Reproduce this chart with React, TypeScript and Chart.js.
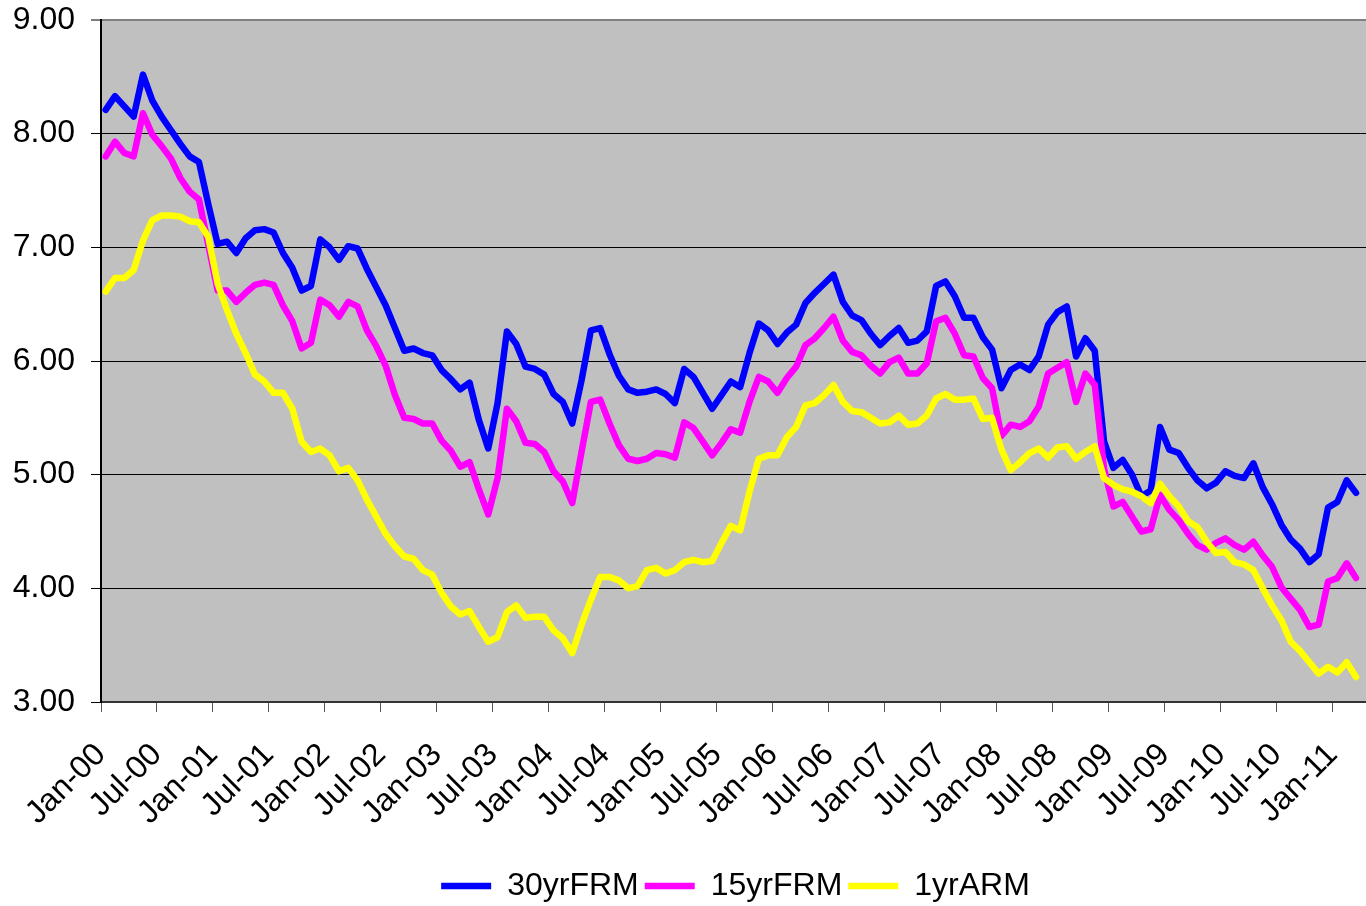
import React, { useEffect, useRef } from 'react';
import { Chart, registerables } from 'chart.js';

Chart.register(...registerables);

// ---------- data ----------
const MONTHS = ['Jan', 'Feb', 'Mar', 'Apr', 'May', 'Jun', 'Jul', 'Aug', 'Sep', 'Oct', 'Nov', 'Dec'];
const YEARS = ['00', '01', '02', '03', '04', '05', '06', '07', '08', '09', '10', '11'];
const CATEGORY_COUNT = 136; // Jan-00 .. Apr-11 (last category empty)
const CATEGORIES: string[] = [];
for (const y of YEARS) for (const m of MONTHS) CATEGORIES.push(`${m}-${y}`);
const LABELS = CATEGORIES.slice(0, CATEGORY_COUNT);
const LABEL_EVERY = 6;

const Y_MIN = 3;
const Y_MAX = 9;
const Y_STEP = 1;

const SERIES_NAMES = ['30yrFRM', '15yrFRM', '1yrARM'];

const FRM30 = [
  8.21, 8.33, 8.24, 8.15, 8.52, 8.29, 8.15, 8.03, 7.91, 7.80, 7.75, 7.38,
  7.03, 7.05, 6.95, 7.08, 7.15, 7.16, 7.13, 6.95, 6.82, 6.62, 6.66, 7.07,
  7.00, 6.89, 7.01, 6.99, 6.81, 6.65, 6.49, 6.29, 6.09, 6.11, 6.07, 6.05,
  5.92, 5.84, 5.75, 5.81, 5.48, 5.23, 5.63, 6.26, 6.15, 5.95, 5.93, 5.88,
  5.71, 5.64, 5.45, 5.83, 6.27, 6.29, 6.06, 5.87, 5.75, 5.72, 5.73, 5.75,
  5.71, 5.63, 5.93, 5.86, 5.72, 5.58, 5.70, 5.82, 5.77, 6.07, 6.33, 6.27,
  6.15, 6.25, 6.32, 6.51, 6.60, 6.68, 6.76, 6.52, 6.40, 6.36, 6.24, 6.14,
  6.22, 6.29, 6.16, 6.18, 6.26, 6.66, 6.70, 6.57, 6.38, 6.38, 6.21, 6.10,
  5.76, 5.92, 5.97, 5.92, 6.04, 6.32, 6.43, 6.48, 6.04, 6.20, 6.09, 5.29,
  5.06, 5.13, 5.00, 4.81, 4.86, 5.42, 5.22, 5.19, 5.06, 4.95, 4.88, 4.93,
  5.03, 4.99, 4.97, 5.10, 4.89, 4.74, 4.56, 4.43, 4.35, 4.23, 4.30, 4.71,
  4.76, 4.95, 4.84,
];

const FRM15 = [
  7.80, 7.93, 7.83, 7.80, 8.18, 7.99, 7.89, 7.78, 7.61, 7.49, 7.42, 7.02,
  6.62, 6.62, 6.52, 6.60, 6.67, 6.69, 6.67, 6.49, 6.35, 6.11, 6.16, 6.54,
  6.49, 6.39, 6.52, 6.48, 6.27, 6.13, 5.96, 5.70, 5.50, 5.49, 5.45, 5.45,
  5.30, 5.21, 5.07, 5.11, 4.87, 4.65, 4.97, 5.58, 5.47, 5.28, 5.27, 5.20,
  5.03, 4.94, 4.75, 5.20, 5.64, 5.66, 5.45, 5.26, 5.14, 5.12, 5.14, 5.19,
  5.18, 5.15, 5.46, 5.41, 5.29, 5.17, 5.28, 5.40, 5.37, 5.64, 5.86, 5.82,
  5.72, 5.85, 5.95, 6.14, 6.20, 6.29, 6.39, 6.18, 6.08, 6.05, 5.96, 5.89,
  5.99, 6.03, 5.89, 5.89, 5.98, 6.35, 6.38, 6.24, 6.05, 6.04, 5.85, 5.76,
  5.34, 5.44, 5.42, 5.47, 5.60, 5.89, 5.94, 5.99, 5.64, 5.89, 5.79, 5.05,
  4.72, 4.76, 4.63, 4.50, 4.52, 4.82, 4.69, 4.60, 4.48, 4.38, 4.34, 4.40,
  4.44, 4.38, 4.34, 4.41, 4.29, 4.19, 4.01, 3.91, 3.81, 3.66, 3.68, 4.06,
  4.09, 4.22, 4.09,
];

const ARM1 = [
  6.61, 6.73, 6.73, 6.80, 7.06, 7.24, 7.28, 7.28, 7.27, 7.23, 7.22, 7.09,
  6.68, 6.45, 6.24, 6.07, 5.88, 5.82, 5.72, 5.72, 5.58, 5.29, 5.20, 5.23,
  5.17, 5.03, 5.06, 4.95, 4.78, 4.63, 4.48, 4.37, 4.28, 4.26, 4.16, 4.12,
  3.96, 3.84, 3.77, 3.80, 3.66, 3.53, 3.57, 3.79, 3.85, 3.74, 3.75, 3.75,
  3.63, 3.56, 3.43, 3.68, 3.90, 4.10, 4.10, 4.07, 4.00, 4.02, 4.16, 4.18,
  4.13, 4.16, 4.23, 4.25, 4.23, 4.24, 4.40, 4.55, 4.51, 4.85, 5.14, 5.17,
  5.17, 5.33, 5.42, 5.61, 5.63, 5.70, 5.79, 5.64, 5.56, 5.55, 5.50, 5.45,
  5.46, 5.52, 5.44, 5.45, 5.52, 5.67, 5.71, 5.66, 5.66, 5.67, 5.49, 5.50,
  5.22, 5.04, 5.11, 5.19, 5.23, 5.15, 5.24, 5.25, 5.14, 5.20, 5.25, 4.97,
  4.91, 4.87, 4.85, 4.81, 4.75, 4.92, 4.81, 4.72, 4.59, 4.54, 4.41, 4.31,
  4.32, 4.23, 4.21, 4.16, 4.00, 3.85, 3.72, 3.53, 3.45, 3.35, 3.25, 3.31,
  3.26, 3.35, 3.22,
];

const COLORS = ['#0000FF', '#FF00FF', '#FFFF00'];

// ---------- layout / style ----------
const CANVAS_W = 1380;
const CANVAS_H = 912;
const FONT = '"Liberation Sans", Arial, Helvetica, sans-serif';
const FONT_SIZE = 32;

const plotBackground = {
  id: 'plotBackground',
  beforeDraw(chart: any) {
    const { ctx, chartArea: a } = chart;
    ctx.save();
    ctx.fillStyle = '#FFFFFF';
    ctx.fillRect(0, 0, chart.width, chart.height);
    ctx.fillStyle = '#C0C0C0';
    ctx.fillRect(a.left, a.top, a.right - a.left, a.bottom - a.top);
    ctx.restore();
  },
};

export default function App() {
  const canvasRef = useRef<HTMLCanvasElement | null>(null);

  useEffect(() => {
    const canvas = canvasRef.current;
    if (!canvas) return;
    const seriesData = [FRM30, FRM15, ARM1];
    const chart = new Chart(canvas, {
      type: 'line',
      data: {
        labels: LABELS,
        datasets: SERIES_NAMES.map((name, i) => ({
          label: name,
          data: seriesData[i],
          borderColor: COLORS[i],
          backgroundColor: COLORS[i],
          borderWidth: 6.5,
          pointRadius: 0,
          pointHoverRadius: 0,
          tension: 0,
          fill: false,
          borderJoinStyle: 'round',
          borderCapStyle: 'round',
          order: SERIES_NAMES.length - i,
        })),
      },
      options: {
        responsive: false,
        animation: false,
        devicePixelRatio: 1,
        events: [],
        layout: { padding: { top: 20, left: 0, right: 10, bottom: 0 } },
        plugins: {
          tooltip: { enabled: false },
          title: { display: false },
          legend: {
            display: true,
            position: 'bottom',
            fullSize: false,
            labels: {
              usePointStyle: true,
              pointStyle: 'line',
              pointStyleWidth: 50,
              padding: 6,
              color: '#000000',
              font: { family: FONT, size: FONT_SIZE },
              sort: (a: any, b: any) => a.datasetIndex - b.datasetIndex,
            },
          },
        },
        scales: {
          x: {
            type: 'category',
            offset: true,
            afterFit: (scale: any) => {
              scale.height = 162;
              scale.paddingLeft = 0;
              scale.paddingRight = 0;
              scale.paddingTop = 0;
              scale.paddingBottom = 0;
            },
            grid: {
              offset: true,
              drawOnChartArea: false,
              drawTicks: true,
              tickLength: 10,
              tickWidth: 1,
              tickColor: (ctx: any) =>
                typeof ctx.index === 'number' && ctx.index % LABEL_EVERY === 0 ? '#555555' : 'rgba(0,0,0,0)',
            },
            border: { display: true, color: '#333333', width: 2 },
            ticks: {
              autoSkip: false,
              minRotation: 45,
              maxRotation: 45,
              padding: 24,
              labelOffset: -4.7,
              color: '#000000',
              font: { family: FONT, size: FONT_SIZE },
              callback: (_v: any, index: number) => (index % LABEL_EVERY === 0 ? LABELS[index] : ''),
            },
          },
          y: {
            type: 'linear',
            min: Y_MIN,
            max: Y_MAX,
            afterFit: (scale: any) => {
              scale.width = 101;
              scale.paddingLeft = 0;
              scale.paddingRight = 0;
              scale.paddingTop = 0;
              scale.paddingBottom = 0;
            },
            grid: {
              color: (ctx: any) => (ctx.tick && ctx.tick.value === Y_MAX ? '#808080' : '#000000'),
              lineWidth: (ctx: any) => (ctx.tick && ctx.tick.value === Y_MAX ? 2 : 1),
              tickColor: '#000000',
              tickLength: 10,
              tickWidth: 1,
            },
            border: { display: true, color: '#000000', width: 2 },
            ticks: {
              stepSize: Y_STEP,
              padding: 16,
              color: '#000000',
              font: { family: FONT, size: FONT_SIZE },
              callback: (v: any) => Number(v).toFixed(2),
            },
          },
        },
      },
      plugins: [plotBackground],
    } as any);
    return () => {
      chart.destroy();
    };
  }, []);

  return (
    <div
      style={{
        position: 'absolute',
        left: 0,
        top: 0,
        width: 1366,
        height: 906,
        overflow: 'hidden',
        background: '#FFFFFF',
      }}
    >
      <canvas ref={canvasRef} width={CANVAS_W} height={CANVAS_H} style={{ display: 'block' }} />
    </div>
  );
}
